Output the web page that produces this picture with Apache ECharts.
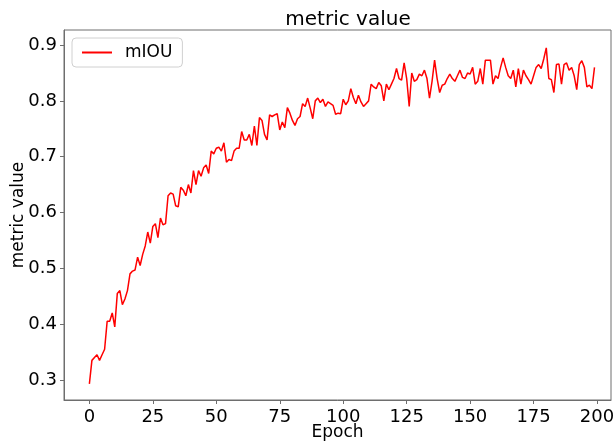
<!DOCTYPE html>
<html>
<head>
<meta charset="utf-8">
<script src="https://cdn.jsdelivr.net/npm/echarts@6/dist/echarts.min.js"></script>
<style>
  html, body { margin: 0; padding: 0; background: #fff; }
  #chart { width: 615px; height: 442px; }
</style>
</head>
<body>
<div id="chart"></div>
<script>
// mIOU per epoch
const mIOU = [
	0.293, 0.335, 0.340, 0.345, 0.335, 0.345, 0.355, 0.405, 0.405, 0.420,
	0.395, 0.455, 0.460, 0.435, 0.445, 0.460, 0.490, 0.495, 0.497, 0.520,
	0.505, 0.525, 0.540, 0.565, 0.545, 0.575, 0.580, 0.555, 0.590, 0.578,
	0.580, 0.630, 0.635, 0.633, 0.612, 0.610, 0.645, 0.640, 0.630, 0.650,
	0.635, 0.675, 0.650, 0.675, 0.665, 0.680, 0.685, 0.670, 0.710, 0.705,
	0.715, 0.717, 0.710, 0.725, 0.690, 0.695, 0.693, 0.710, 0.715, 0.715,
	0.745, 0.730, 0.730, 0.740, 0.720, 0.755, 0.720, 0.770, 0.765, 0.740,
	0.730, 0.775, 0.772, 0.775, 0.777, 0.748, 0.762, 0.752, 0.788, 0.778,
	0.765, 0.756, 0.768, 0.772, 0.795, 0.790, 0.805, 0.787, 0.768, 0.800,
	0.805, 0.797, 0.803, 0.790, 0.798, 0.795, 0.792, 0.776, 0.778, 0.777,
	0.803, 0.793, 0.800, 0.822, 0.806, 0.795, 0.810, 0.798, 0.790, 0.795,
	0.800, 0.830, 0.825, 0.822, 0.833, 0.827, 0.800, 0.830, 0.820, 0.830,
	0.840, 0.858, 0.840, 0.837, 0.868, 0.840, 0.790, 0.850, 0.835, 0.838,
	0.848, 0.845, 0.855, 0.840, 0.805, 0.835, 0.873, 0.840, 0.815, 0.828,
	0.830, 0.840, 0.848, 0.840, 0.835, 0.845, 0.855, 0.842, 0.840, 0.850,
	0.848, 0.860, 0.830, 0.835, 0.858, 0.830, 0.873, 0.873, 0.873, 0.830,
	0.845, 0.840, 0.860, 0.877, 0.860, 0.845, 0.840, 0.855, 0.825, 0.858,
	0.830, 0.855, 0.845, 0.838, 0.830, 0.845, 0.860, 0.865, 0.858, 0.875,
	0.895, 0.840, 0.838, 0.815, 0.865, 0.866, 0.830, 0.865, 0.868, 0.855,
	0.860, 0.845, 0.820, 0.865, 0.872, 0.860, 0.825, 0.828, 0.822, 0.860
];
const xTicks = [0, 25, 50, 75, 100, 125, 150, 175, 200];
const yTicks = [0.3, 0.4, 0.5, 0.6, 0.7, 0.8, 0.9];

const FONT = 'DejaVu Sans';
const AXIS_COLOR = '#6e6e6e';

let points = mIOU.map((v, i) => [i, v]);

let chart = echarts.init(document.getElementById('chart'), null, { renderer: 'canvas' });

let option = {
	animation: false,
	backgroundColor: '#fff',
	title: {
		text: 'metric value',
		left: 343,
		textAlign: 'center',
		top: 5,
		textStyle: { fontFamily: FONT, fontSize: 20, fontWeight: 'normal', color: '#000' }
	},
	legend: {
		left: 72,
		top: 38,
		padding: [6, 10, 6, 10],
		itemWidth: 30,
		itemHeight: 2,
		itemGap: 8,
		icon: 'rect',
		borderColor: '#d0d0d0',
		borderWidth: 1,
		borderRadius: 4,
		backgroundColor: '#fff',
		textStyle: { fontFamily: FONT, fontSize: 17, color: '#000', padding: [0, 0, 0, 8] },
		data: ['mIOU']
	},
	grid: {
		left: 64,
		right: 4,
		top: 30,
		bottom: 42,
		outerBoundsMode: 'none',
		containLabel: false,
		show: true,
		borderColor: AXIS_COLOR,
		borderWidth: 1
	},
	xAxis: {
		type: 'value',
		min: -10,
		max: 205.5,
		name: 'Epoch',
		nameLocation: 'middle',
		nameGap: 24,
		nameMoveOverlap: false,
		nameTextStyle: { fontFamily: FONT, fontSize: 17, color: '#000' },
		splitLine: { show: false },
		axisLine: { show: true, onZero: false, lineStyle: { color: AXIS_COLOR } },
		axisTick: { show: true, length: 4, customValues: xTicks, lineStyle: { color: AXIS_COLOR } },
		axisLabel: {
			customValues: xTicks,
			fontFamily: FONT, fontSize: 18, color: '#000', margin: 8
		}
	},
	yAxis: {
		type: 'value',
		min: 0.264,
		max: 0.927,
		name: 'metric value',
		nameLocation: 'middle',
		nameGap: 37,
		nameMoveOverlap: false,
		nameTextStyle: { fontFamily: FONT, fontSize: 17, color: '#000' },
		splitLine: { show: false },
		axisLine: { show: true, onZero: false, lineStyle: { color: AXIS_COLOR } },
		axisTick: { show: true, length: 4, customValues: yTicks, lineStyle: { color: AXIS_COLOR } },
		axisLabel: {
			customValues: yTicks,
			formatter: v => v.toFixed(1),
			fontFamily: FONT, fontSize: 18, color: '#000', margin: 7
		}
	},
	series: [{
		name: 'mIOU',
		type: 'line',
		data: points,
		showSymbol: false,
		color: '#ff0000',
		lineStyle: { width: 1.5, color: '#ff0000' }
	}]
};

chart.setOption(option);
</script>
</body>
</html>
